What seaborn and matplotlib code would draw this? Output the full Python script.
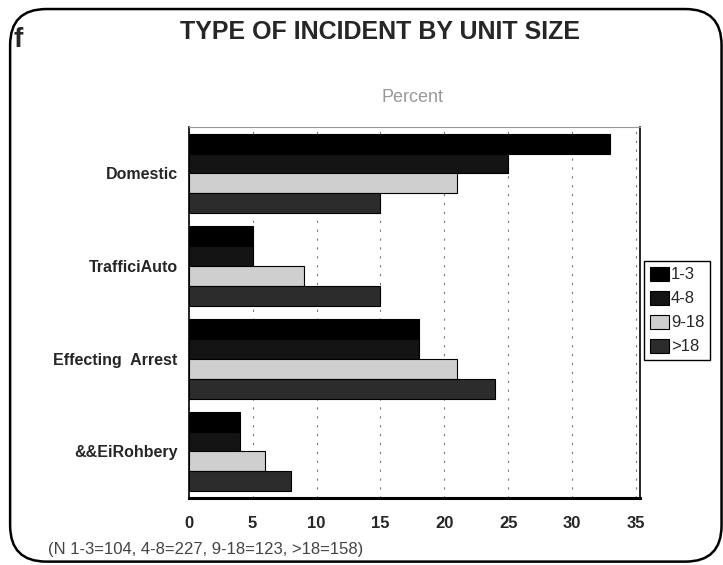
import matplotlib
matplotlib.use("Agg")
import matplotlib.pyplot as plt
import seaborn as sns
import pandas as pd
from matplotlib.patches import FancyBboxPatch

categories = ["Domestic", "TrafficiAuto", "Effecting  Arrest", "&&EiRohbery"]
unit_sizes = ["1-3", "4-8", "9-18", ">18"]
v_1_3 = [33, 5, 18, 4]
v_4_8 = [25, 5, 18, 4]
v_9_18 = [21, 9, 21, 6]
v_gt18 = [15, 15, 24, 8]
x_ticks = [0, 5, 10, 15, 20, 25, 30, 35]
colors = ["#000000", "#141414", "#cfcfcf", "#2c2c2c"]

rows = []
for series, vals in zip(unit_sizes, [v_1_3, v_4_8, v_9_18, v_gt18]):
    for c, v in zip(categories, vals):
        rows.append({"cat": c, "size": series, "pct": v})
df = pd.DataFrame(rows)

sns.set_theme(style="white")
plt.rcParams['font.family'] = ['Liberation Sans', 'DejaVu Sans']

fig = plt.figure(figsize=(7.23, 5.65), dpi=100)
ax = fig.add_axes([0.261, 0.119, 0.624, 0.656])

sns.barplot(data=df, y="cat", x="pct", hue="size", order=categories,
            hue_order=unit_sizes, palette=colors, orient="h", width=0.86,
            gap=0, edgecolor="black", linewidth=0.8, ax=ax, legend=True, zorder=3)

ax.set_xlim(0, 35.3)
ax.set_xticks(x_ticks)
ax.set_xticklabels([str(t) for t in x_ticks], fontsize=12, fontweight="bold")
ax.tick_params(axis="y", labelsize=11.5, pad=8)
for lab in ax.get_yticklabels():
    lab.set_fontweight("bold")
ax.tick_params(axis="x", pad=13, length=0)
ax.tick_params(axis="y", length=0)
ax.set_xlabel("")
ax.set_ylabel("")
ax.xaxis.grid(True, linestyle=(0, (2, 6)), color="#777777", linewidth=0.8, zorder=0)
ax.set_axisbelow(True)
for s in ["left", "right"]:
    ax.spines[s].set_color("black")
    ax.spines[s].set_linewidth(1.2)
ax.spines["bottom"].set_color("black")
ax.spines["bottom"].set_linewidth(2.2)
ax.spines["top"].set_color("#999999")
ax.spines["top"].set_linewidth(0.8)

leg = ax.legend(loc="center left", bbox_to_anchor=(1.01, 0.505), frameon=True,
                fontsize=12, handlelength=1.1, handleheight=0.9, handletextpad=0.15,
                borderpad=0.35, labelspacing=0.5, fancybox=False, borderaxespad=0)
leg.get_frame().set_edgecolor("black")
leg.get_frame().set_linewidth(1.0)
leg.get_frame().set_alpha(1)

fig.text(0.526, 0.943, "TYPE OF INCIDENT BY UNIT SIZE", ha="center", va="center",
         fontsize=18, fontweight="bold")
fig.text(0.57, 0.828, "Percent", ha="center", va="center", fontsize=13, color="#999999")
fig.text(0.025, 0.93, "f", ha="center", va="center", fontsize=20, fontweight="bold")
fig.text(0.066, 0.028, "(N 1-3=104, 4-8=227, 9-18=123, >18=158)", ha="left", va="center",
         fontsize=12, color="#444444")

border = FancyBboxPatch((0.014, 0.006), 0.984, 0.978, boxstyle="round,pad=0,rounding_size=0.05",
                        transform=fig.transFigure, fill=False, edgecolor="black",
                        linewidth=1.8, mutation_aspect=723/565)
fig.patches.append(border)

fig.savefig("out.png", dpi=100)
